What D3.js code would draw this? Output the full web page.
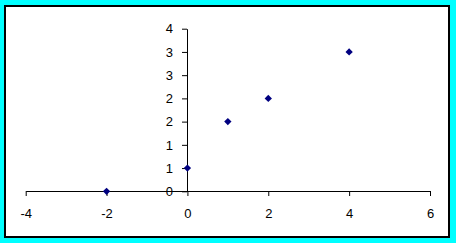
<!DOCTYPE html>
<html>
<head>
<meta charset="utf-8">
<script src="https://cdn.jsdelivr.net/npm/d3@7"></script>
<style>
  html, body { margin: 0; padding: 0; background: #00ffff; }
  svg { display: block; }
  .axis text { font-family: "Liberation Sans", Arial, sans-serif; font-size: 13px; fill: #000; }
  .axis path, .axis line { stroke: #000; }
</style>
</head>
<body>
<svg id="chart" width="456" height="243"></svg>
<script>
// values
const xValues = [-2, 0, 1, 2, 4]
const yValues = [0, 0.5, 1.5, 2, 3]

const xTicks = [-4, -2, 0, 2, 4, 6]
const yTicks = [0, 0.5, 1, 1.5, 2, 2.5, 3, 3.5]
// Excel rounds the half steps, so labels repeat
const yTickLabels = ["0", "1", "1", "2", "2", "3", "3", "4"]

const svg = d3.select("#chart")

// frame: black border round a white plot area
svg.append("rect")
    .attr("x", 4).attr("y", 5)
    .attr("width", 446).attr("height", 233)
    .attr("fill", "#000")
svg.append("rect")
    .attr("x", 6).attr("y", 7)
    .attr("width", 442).attr("height", 229)
    .attr("fill", "#fff")

let x = d3.scaleLinear().domain([-4, 6]).range([25.7, 430])
let y = d3.scaleLinear().domain([0, 3.5]).range([191.3, 28.7])

// x axis crosses at y = 0
svg.append("g")
    .attr("class", "axis")
    .attr("transform", `translate(0,${Math.floor(y(0))})`)
    .call(d3.axisBottom(x)
        .tickValues(xTicks)
        .tickSizeInner(5)
        .tickSizeOuter(0)
        .tickPadding(13)
        .tickFormat(d3.format("d")))
    .call(g => g.selectAll("text").text(d => d < 0 ? "-" + Math.abs(d) : d))

// y axis crosses at x = 0
svg.append("g")
    .attr("class", "axis")
    .attr("transform", `translate(${Math.floor(x(0))},0)`)
    .call(d3.axisLeft(y)
        .tickValues(yTicks)
        .tickSizeInner(5)
        .tickSizeOuter(0)
        .tickPadding(9)
        .tickFormat((d, i) => yTickLabels[i]))

svg.selectAll("text").attr("font-family", null).attr("font-size", null)

let diamond = d3.symbol().type(d3.symbolDiamond2).size(34)

svg.append("g")
    .selectAll("path")
    .data(xValues)
    .join("path")
    .attr("d", diamond)
    .attr("fill", "#000080")
    .attr("transform", (d, i) => `translate(${x(d)},${y(yValues[i])})`)
</script>
</body>
</html>
